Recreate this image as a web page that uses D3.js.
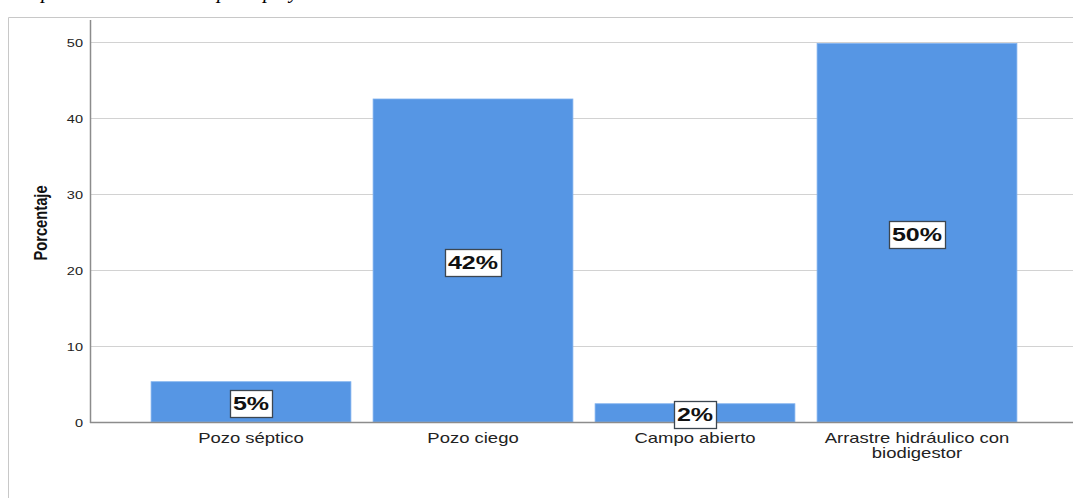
<!DOCTYPE html>
<html>
<head>
<meta charset="utf-8">
<script src="https://cdn.jsdelivr.net/npm/d3@7"></script>
<style>
  html, body { margin: 0; padding: 0; background: #fff; }
  svg { display: block; }
</style>
</head>
<body>
<script>
const categories = ["Pozo séptico", "Pozo ciego", "Campo abierto", "Arrastre hidráulico con biodigestor"];
const categoryLines = [["Pozo séptico"], ["Pozo ciego"], ["Campo abierto"], ["Arrastre hidráulico con", "biodigestor"]];
const values = [5.3, 42.5, 2.4, 49.8];
const valueLabels = ["5%", "42%", "2%", "50%"];
const yTicks = [0, 10, 20, 30, 40, 50];
const yTitle = "Porcentaje";
const captionText = "Disposición de excretas por tipo y";

const W = 1073, H = 498;
const SX = 1.32; // horizontal stretch of the original rendering
const svg = d3.select("body").append("svg").attr("width", W).attr("height", H);

// caption (cut off at top, as in the source)
svg.append("text").attr("x", 12).attr("y", -2)
  .attr("font-family", "Liberation Serif, serif").attr("font-style", "italic")
  .attr("font-size", 21).attr("fill", "#000").text(captionText);

// frame
svg.append("path").attr("d", `M8.5,${H}V17.5H${W}`).attr("fill", "none").attr("stroke", "#c8c8c8").attr("stroke-width", 1);

const x0 = 90, xEnd = W;
const y = d3.scaleLinear().domain([0, 50]).range([422, 42]);
const x = d3.scaleBand().domain(categories).range([140, 1028]).paddingInner(0.1).paddingOuter(0.05);

// gridlines
svg.append("g").selectAll("line").data(yTicks.filter(d => d > 0)).join("line")
  .attr("x1", x0).attr("x2", xEnd).attr("y1", d => y(d) + 0.5).attr("y2", d => y(d) + 0.5)
  .attr("stroke", "#d2d2d2").attr("stroke-width", 1.2);

// bars
svg.append("g").selectAll("rect").data(values).join("rect")
  .attr("x", (d, i) => x(categories[i]))
  .attr("width", x.bandwidth())
  .attr("y", d => y(d))
  .attr("height", d => y(0) - y(d))
  .attr("fill", "#5696e4")
  .attr("stroke", "#7eb0ee").attr("stroke-width", 0.8);

// y axis (ticks via d3 axis, labels stretched horizontally)
const yAxis = d3.axisLeft(y).tickValues(yTicks).tickSize(0).tickPadding(0).tickFormat(() => "");
const gy = svg.append("g").attr("transform", `translate(${x0},0)`).call(yAxis);
gy.select(".domain").remove();
gy.selectAll(".tick").append("g").attr("transform", `translate(-7,4) scale(${SX},1)`)
  .append("text").attr("text-anchor", "end")
  .attr("font-family", "Liberation Sans, Arial, sans-serif").attr("font-size", 11).attr("fill", "#222")
  .text(d => d);
svg.append("line").attr("x1", x0 + 0.5).attr("x2", x0 + 0.5).attr("y1", 20).attr("y2", 423)
  .attr("stroke", "#8c8c8c").attr("stroke-width", 1.5);
// baseline
svg.append("line").attr("x1", x0).attr("x2", xEnd).attr("y1", y(0) + 0.5).attr("y2", y(0) + 0.5)
  .attr("stroke", "#8c8c8c").attr("stroke-width", 1.3);

// y title
svg.append("text").attr("transform", `translate(47,${223}) rotate(-90) scale(1.05,${SX})`)
  .attr("text-anchor", "middle")
  .attr("font-family", "Liberation Sans Narrow, Arial Narrow, Liberation Sans, sans-serif")
  .attr("font-weight", "bold").attr("font-size", 14).attr("fill", "#111").text(yTitle);

// x labels
const xg = svg.append("g").selectAll("g").data(categoryLines).join("g")
  .attr("transform", (d, i) => `translate(${x(categories[i]) + x.bandwidth() / 2},443) scale(${SX},1)`);
xg.each(function(lines) {
  const t = d3.select(this).append("text").attr("text-anchor", "middle")
    .attr("font-family", "Liberation Sans, Arial, sans-serif")
    .attr("font-size", 14).attr("fill", "#222");
  lines.forEach((l, j) => t.append("tspan").attr("x", 0).attr("dy", j === 0 ? 0 : 15).text(l));
});

// value labels
const lg = svg.append("g");
values.forEach((v, i) => {
  const cx = x(categories[i]) + x.bandwidth() / 2;
  const cy = (y(0) + y(v)) / 2 + 2;
  const g = lg.append("g");
  const tg = g.append("g").attr("transform", `translate(${cx},${cy + 6.5}) scale(${SX},1)`);
  const t = tg.append("text").attr("text-anchor", "middle")
    .attr("font-family", "Liberation Sans, Arial, sans-serif").attr("font-weight", "bold")
    .attr("font-size", 19).attr("fill", "#111").text(valueLabels[i]);
  const bw = t.node().getBBox().width * SX;
  const pw = 3, h = 27;
  g.insert("rect", "g").attr("x", Math.round(cx - bw / 2 - pw) + 0.5).attr("y", Math.round(cy - h / 2) + 0.5)
    .attr("width", Math.round(bw + 2 * pw)).attr("height", h)
    .attr("fill", "#fff").attr("stroke", "#3c4650").attr("stroke-width", 1.3);
});
</script>
</body>
</html>
